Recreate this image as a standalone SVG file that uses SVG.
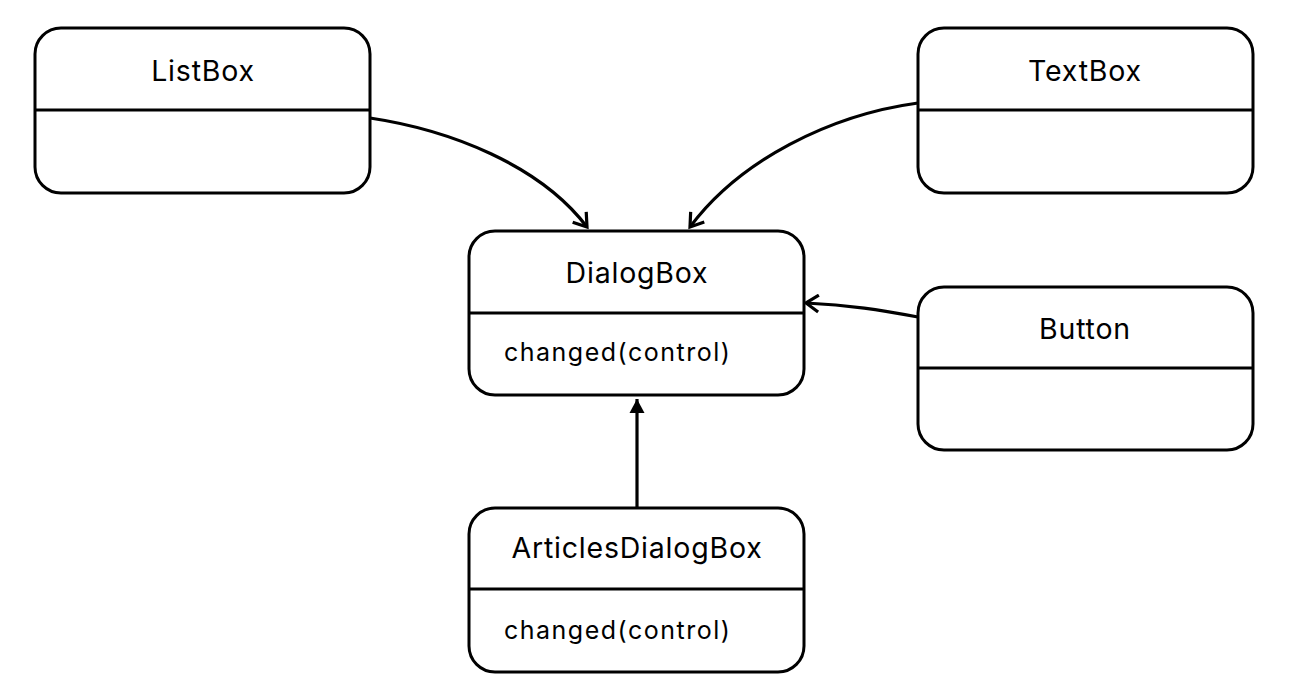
<svg xmlns="http://www.w3.org/2000/svg" width="1304" height="696" viewBox="0 0 1304 696">
<style>
.box{fill:#fff;stroke:#000;stroke-width:3}
.div{stroke:#000;stroke-width:3}
.title{font-family:Inter,"Noto Sans",sans-serif;font-size:28.5px;font-weight:400;letter-spacing:0.8px;fill:#000;text-anchor:middle}
.meth{font-family:Inter,"Noto Sans",sans-serif;font-size:25px;font-weight:400;letter-spacing:1.5px;fill:#000}
.edge{fill:none;stroke:#000;stroke-width:3.2}
</style>
<defs>
<marker id="open" viewBox="0 0 20 20" refX="17" refY="10" markerWidth="20" markerHeight="20" markerUnits="userSpaceOnUse" orient="auto">
<path d="M4.5,1.5 L17,10 L4.5,18.5" fill="none" stroke="#000" stroke-width="3.2"/>
</marker>
<marker id="filled" viewBox="0 0 16 16" refX="15" refY="8" markerWidth="16" markerHeight="16" markerUnits="userSpaceOnUse" orient="auto">
<path d="M1,0.5 L15,8 L1,15.5 Z" fill="#000"/>
</marker>
</defs>
<g id="connectors">
<path class="edge" d="M370,118 C450,130 540,165 587,227" marker-end="url(#open)"/>
<path class="edge" d="M918,103 C830,115 740,160 690,227" marker-end="url(#open)"/>
<path class="edge" d="M918,317 C880,310 850,305 806,303" marker-end="url(#open)"/>
<path class="edge" d="M637,508 L637,399" marker-end="url(#filled)"/>
</g>
<g id="ListBox">
<rect class="box" x="35" y="28" width="335" height="165" rx="26"/>
<line class="div" x1="35" y1="110" x2="370" y2="110"/>
<text class="title" x="203" y="81">ListBox</text>
</g>
<g id="TextBox">
<rect class="box" x="918" y="28" width="335" height="165" rx="26"/>
<line class="div" x1="918" y1="110" x2="1253" y2="110"/>
<text class="title" x="1085" y="81">TextBox</text>
</g>
<g id="DialogBox">
<rect class="box" x="469" y="231" width="335" height="164" rx="26"/>
<line class="div" x1="469" y1="313" x2="804" y2="313"/>
<text class="title" x="637" y="283">DialogBox</text>
<text class="meth" x="504" y="361">changed(control)</text>
</g>
<g id="Button">
<rect class="box" x="918" y="287" width="335" height="163" rx="26"/>
<line class="div" x1="918" y1="368" x2="1253" y2="368"/>
<text class="title" x="1085" y="339">Button</text>
</g>
<g id="ArticlesDialogBox">
<rect class="box" x="469" y="508" width="335" height="164" rx="26"/>
<line class="div" x1="469" y1="589" x2="804" y2="589"/>
<text class="title" x="637" y="558">ArticlesDialogBox</text>
<text class="meth" x="504" y="639">changed(control)</text>
</g>
</svg>
